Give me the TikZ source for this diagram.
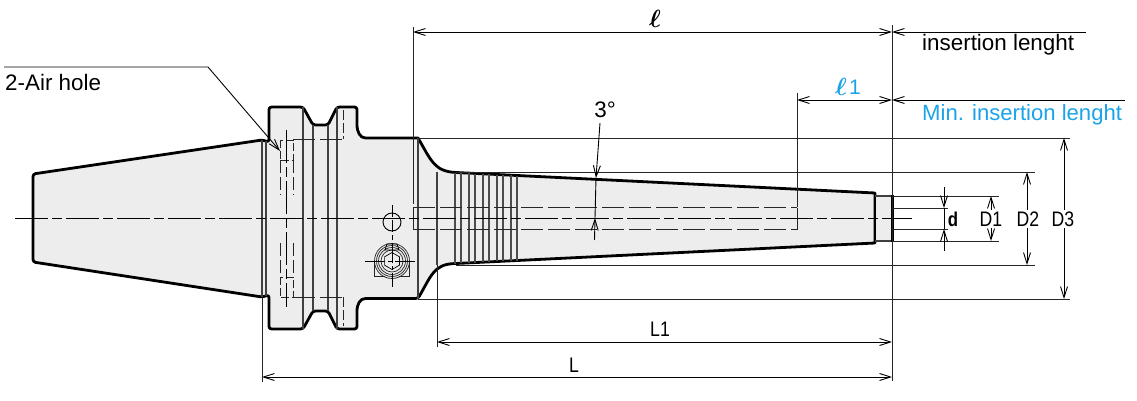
\documentclass[tikz,border=0pt]{standalone}
\usepackage{amsmath,amssymb}
\usepackage{fontspec}
\setmainfont{Liberation Sans}
\newfontfamily\dimfont[FakeStretch=0.84]{Liberation Sans}
\usetikzlibrary{calc, arrows.meta}
\definecolor{bodygray}{HTML}{EDEDED}
\definecolor{minblue}{HTML}{1AA3E8}

\begin{document}
\begin{tikzpicture}[x=1pt,y=-1pt]
\tikzstyle{body}=[draw=black,fill=bodygray,line width=2.8pt,line join=round]
\tikzstyle{edge}=[draw=black!75,line width=1.2pt]
\tikzstyle{groove}=[draw=black!70,line width=2.2pt]
\tikzstyle{hid}=[draw=black!85,line width=1pt,dash pattern=on 22pt off 5pt]
\tikzstyle{hidshort}=[draw=black!85,line width=1pt,dash pattern=on 8pt off 2.5pt]
\tikzstyle{axisln}=[draw=black,line width=0.9pt,dash pattern=on 33pt off 4pt on 10pt off 4pt]
\tikzstyle{ext}=[draw=black!85,line width=0.9pt]
\tikzstyle{dimln}=[draw=black,line width=0.9pt,{Straight Barb[length=11pt,width=7pt]}-{Straight Barb[length=11pt,width=7pt]}]
\tikzstyle{dimone}=[draw=black,line width=0.9pt,{Straight Barb[length=11pt,width=7pt]}-]
\tikzstyle{txt}=[inner sep=0pt,font=\fontsize{22.4}{26}\selectfont]
\tikzstyle{dimtxt}=[inner sep=0pt,font=\dimfont\fontsize{21}{24}\selectfont]
\useasboundingbox (0,0) rectangle (1137,401);
% body
\draw[body] [rounded corners=2.5pt] (269,142) -- (262,140) -- (33,174) -- (33,262) -- (262,297) -- (269,295) -- (269,329)
  -- (303,329) -- (313,311) -- (328,311) -- (337,329) -- (357,329) -- (357,314)
  .. controls (357,304) and (360,298.5) .. (368,298.5) -- (418,298.5)
  .. controls (431,276) and (434,264.5) .. (456,263.5) [sharp corners] -- (875,243) -- (875,193) -- (456,172.5)
  .. controls (434,171.5) and (431,160) .. (418,138) [rounded corners=2.5pt] -- (368,138)
  .. controls (360,138) and (357,132) .. (357,122) -- (357,107) -- (337,107) -- (328,125)
  -- (313,125) -- (303,107) -- (269,107) -- cycle;
\fill[bodygray] (876,196) rectangle (892,241);
\draw[edge] (875,196) -- (892,196) (875,241) -- (892,241);
\draw[black,line width=2.8pt] (892.5,195) -- (892.5,242);
% flange lines
\draw[edge] (262,140) -- (262,297) (266,141) -- (266,296);
\draw[edge] (303,107) -- (303,329) (313,125) -- (313,311) (328,125) -- (328,311) (337,107) -- (337,329);
\draw[edge] (418,138) -- (418,299) (437,172) -- (437,265);
% grooves
\draw[groove] (455,172.5) -- (455,263.5) (461,172.8) -- (461,263.2) (469,173.2) -- (469,262.8)
  (475,173.5) -- (475,262.5) (483,173.9) -- (483,262.1) (489,174.2) -- (489,261.8)
  (497,174.6) -- (497,261.4) (503,174.8) -- (503,261.2) (511,175.2) -- (511,260.8) (517,175.5) -- (517,260.5);
% air holes
\draw[hidshort] (280,140) rectangle (293,160) (280,277) rectangle (293,297);
\draw[hid,dash pattern=on 13pt off 4pt] (280,160) -- (280,195) (293,160) -- (293,195) (280,243) -- (280,277) (293,243) -- (293,277);
\draw[hid] (293,139) -- (343,139) (293,297) -- (343,297);
\draw[hid,dash pattern=on 10pt off 3pt] (343,110) -- (343,139) (343,297) -- (343,326);
\draw[axisln] (286.5,130) -- (286.5,307);
% bore
\draw[hid] (413,207.5) -- (797,207.5) (413,229.5) -- (797,229.5);
\draw[ext] (413,207.5) -- (413,229.5) (797,207.5) -- (797,229.5);
\draw[axisln] (15,218) -- (912,218);
% port and screw
\node[circle,draw=black,line width=0.9pt,minimum size=18pt,inner sep=0pt] (port) at (392,222) {};
\draw[axisln,dash pattern=on 12pt off 3pt] (392,205) -- (392,240);
\draw[ext] (374,261) -- (374,276) -- (409.5,276) -- (409.5,261);
\fill[bodygray] (392,261) circle (17pt);
\foreach \rr in {17.5,15.5,13.5,11} \draw[black!85,line width=0.7pt] (392,261) circle (\rr pt);
\draw[black,line width=0.7pt] (392,252.5) -- (399.4,256.8) -- (399.4,265.2) -- (392,269.5) -- (384.6,265.2) -- (384.6,256.8) -- cycle;
\draw[black,line width=0.7pt] (385,250) -- (387,244) -- (397,244) -- (399,250) -- cycle;
\draw[axisln,dash pattern=on 20pt off 3pt on 4pt off 3pt] (365,261) -- (418,261);
\draw[axisln,dash pattern=on 20pt off 3pt on 4pt off 3pt] (392,243) -- (392,287);
% extension lines
\coordinate (l_a) at (413,32);
\coordinate (l_b) at (892,32);
\coordinate (l_c) at (1086,32);
\coordinate (k_a) at (797,100);
\coordinate (k_b) at (892,100);
\coordinate (k_c) at (1125,100);
\coordinate (L1_a) at (437,342);
\coordinate (L1_b) at (892,342);
\coordinate (L_a) at (262,377);
\coordinate (L_b) at (892,377);
\draw[ext] (413,27) -- (413,204) (892,25) -- (892,381) (797,93) -- (797,207);
\draw[ext] (437,265) -- (437,347) (262,297) -- (262,382);
\draw[ext] (418,138) -- (1070,138) (418,299) -- (1070,299);
\draw[ext] (456,172) -- (1035,172) (456,265) -- (1035,265);
\draw[ext] (892,196) -- (999,196) (892,241) -- (999,241);
\draw[ext] (892,208) -- (948,208) (892,229) -- (948,229);
% dimensions
\draw[dimln] (l_a) -- (l_b);
\draw[dimone] (l_b) -- (l_c);
\draw[dimln] (k_a) -- (k_b);
\draw[dimone] (k_b) -- (k_c);
\draw[dimln] (L1_a) -- (L1_b);
\draw[dimln] (L_a) -- (L_b);
\coordinate (D3_a) at (1064,138);
\coordinate (D3_b) at (1064,299);
\coordinate (D2_a) at (1027,172);
\coordinate (D2_b) at (1027,265);
\coordinate (D1_a) at (991,196);
\coordinate (D1_b) at (991,241);
\coordinate (d_a) at (944,208);
\coordinate (d_b) at (944,229);
\coordinate (d_c) at (944,187);
\coordinate (d_e) at (944,251);
\draw[dimln] (D3_a) -- (D3_b);
\draw[dimln] (D2_a) -- (D2_b);
\draw[dimln] (D1_a) -- (D1_b);
\draw[dimone] (d_a) -- (d_c);
\draw[dimone] (d_b) -- (d_e);
\draw[black,line width=0.9pt] (d_a) -- (d_b);
% 3 degrees
\coordinate (deg_a) at (600,123);
\coordinate (deg_b) at (596,178);
\coordinate (deg_c) at (595,218);
\coordinate (deg_e) at (594.5,240);
\draw[dimone] (deg_b) -- (deg_a);
\draw[dimone] (deg_c) -- (deg_e);
\draw[black,line width=0.9pt] (deg_b) -- (deg_c);
% leader
\coordinate (hole_a) at (4,67);
\coordinate (hole_b) at (208,67);
\coordinate (hole_c) at (280,151);
\draw[dimone] (hole_c) -- (hole_b) -- (hole_a);
% labels
\node[txt,anchor=west] (hole_t) at (5,82) {2-Air hole};
\node[txt] (deg_t) at (605,110) {3\textdegree};
\node[txt,anchor=west] (ins_t) at (922,45) {insertion lenght};
\node[txt,anchor=west,text=minblue] (min_t) at (922,114.5) {\fontsize{22.1}{26}\selectfont Min. insertion lenght};
\node[inner sep=1pt,font=\fontsize{25}{28}\selectfont] (l_t) at (655,19) {$\boldsymbol{\ell}$};
\node[inner sep=1pt,font=\fontsize{25}{28}\selectfont,text=minblue] (k_t) at (841,87) {$\boldsymbol{\ell}$};
\node[inner sep=0pt,font=\fontsize{21}{24}\selectfont,text=minblue] (k_u) at (855,87) {1};
\node[dimtxt] (L1_t) at (660,329) {L1};
\node[dimtxt] (L_t) at (574,365) {L};
\node[dimtxt,fill=white,inner ysep=2pt] (D1_t) at (991,219) {D1};
\node[dimtxt,fill=white,inner ysep=2pt] (D2_t) at (1028,219) {D2};
\node[dimtxt,fill=white,inner ysep=2pt] (D3_t) at (1063,219) {D3};
\node[dimtxt,font=\dimfont\bfseries\fontsize{20}{24}\selectfont] (d_t) at (953,219.5) {d};
\end{tikzpicture}
\end{document}
